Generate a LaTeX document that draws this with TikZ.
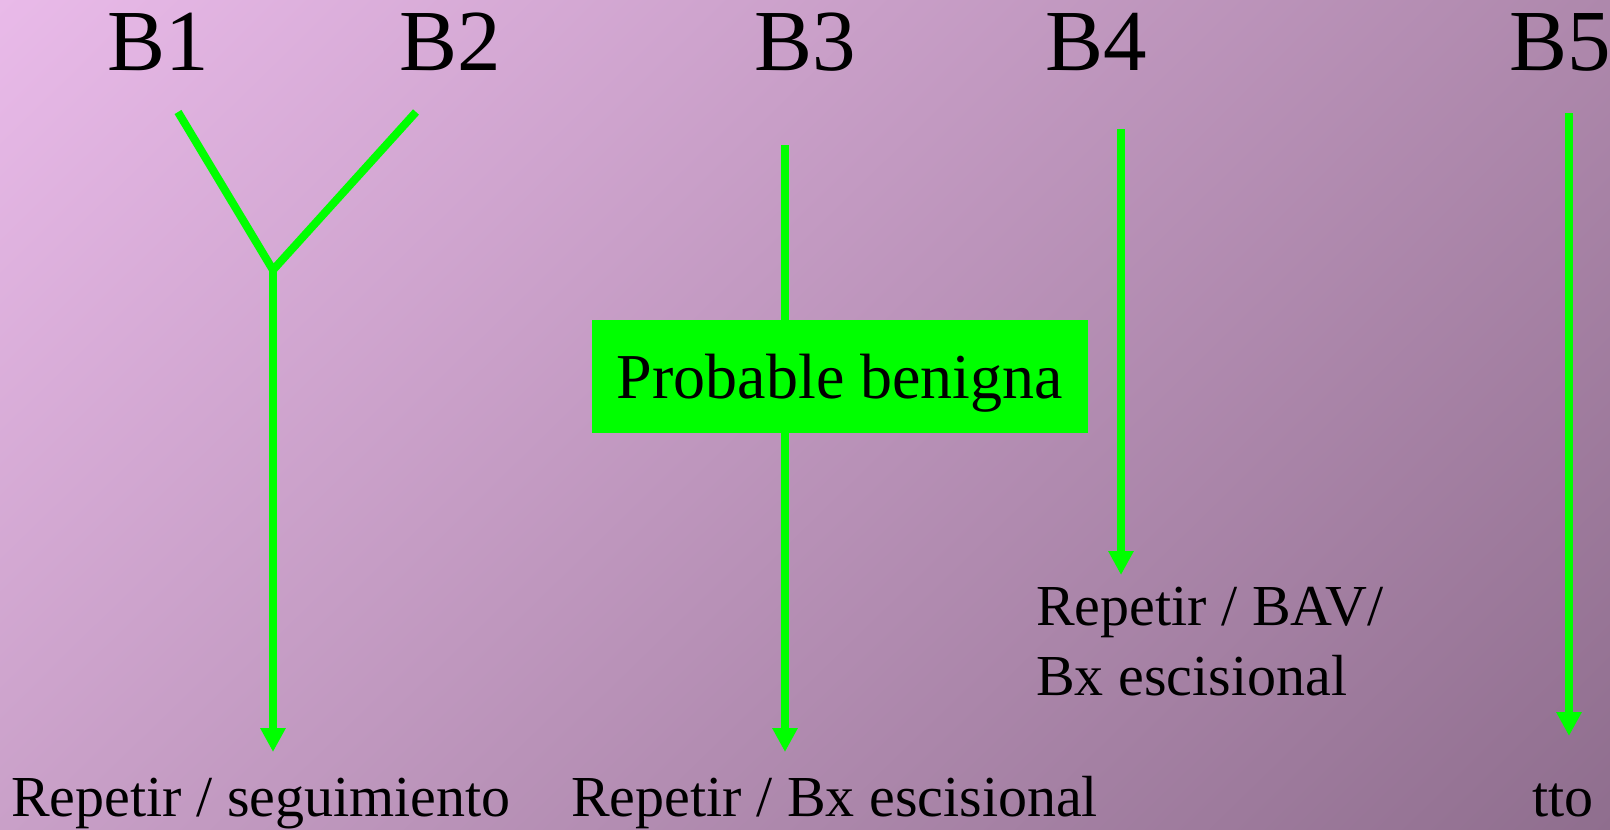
\documentclass[tikz,border=0pt]{standalone}
\usepackage{fontspec}
\setmainfont{Liberation Serif}
\usetikzlibrary{arrows.meta,shadings}

\definecolor{bgul}{RGB}{233,186,233}
\definecolor{bgur}{RGB}{174,136,172}
\definecolor{bgll}{RGB}{201,160,200}
\definecolor{bglr}{RGB}{143,110,142}
\definecolor{lgreen}{RGB}{0,255,0}

\begin{document}
\begin{tikzpicture}[x=1pt,y=-1pt,
  blbl/.style={anchor=base west, inner sep=0pt, font=\fontsize{87}{87}\selectfont},
  tlbl/.style={anchor=base west, inner sep=0pt, font=\fontsize{58}{58}\selectfont},
  gline/.style={lgreen, line width=8pt},
  garr/.style={gline, -{Triangle[width=24pt,length=24pt]}}]
\useasboundingbox (0,0) rectangle (1610,830);
\shade[upper left=bgul, upper right=bgur, lower left=bgll, lower right=bglr] (0,0) rectangle (1610,830);

% category labels
\node[blbl] (b1) at (107,70) {B1};
\node[blbl] (b2) at (399,70) {B2};
\node[blbl] (b3) at (754,70) {B3};
\node[blbl] (b4) at (1045,70) {B4};
\node[blbl] (b5) at (1509,70) {B5};

% line ends
\coordinate (s1) at (178,112);
\coordinate (s2) at (416,112);
\coordinate (j12) at (273,270);
\coordinate (e12) at (273,752);
\coordinate (s3) at (785,145);
\coordinate (e3) at (785,752);
\coordinate (s4) at (1121,129);
\coordinate (e4) at (1121,575);
\coordinate (s5) at (1569,113);
\coordinate (e5) at (1569,736);

% B1 / B2
\draw[gline] (s1) -- (j12);
\draw[gline] (s2) -- (j12);
\draw[garr] (j12) -- (e12);
% B3
\draw[garr] (s3) -- (e3);
\node[fill=lgreen, minimum width=496pt, minimum height=113pt, inner sep=0pt,
  text depth=0pt, font=\fontsize{64}{64}\selectfont] (prob) at (840,376.5) {Probable benigna};
% B4, B5
\draw[garr] (s4) -- (e4);
\draw[garr] (s5) -- (e5);

% outcomes
\node[tlbl] (r12) at (11,816) {Repetir / seguimiento};
\node[tlbl] (r3) at (571,816) {Repetir / Bx escisional};
\node[tlbl] (r4a) at (1036,625) {Repetir / BAV/};
\node[tlbl] (r4b) at (1036,695) {Bx escisional};
\node[tlbl] (r5) at (1532,816) {tto};
\end{tikzpicture}
\end{document}
